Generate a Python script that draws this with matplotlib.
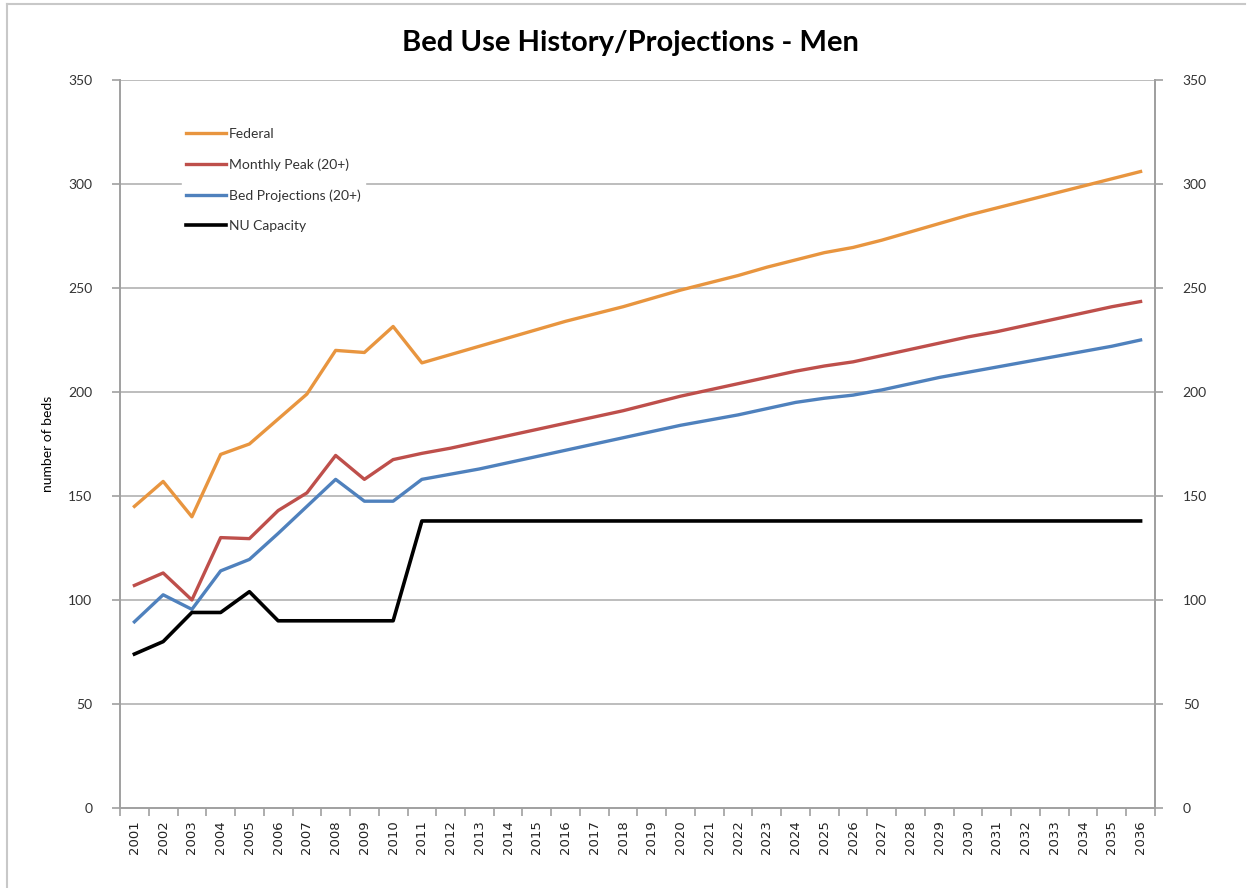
import numpy as np
import matplotlib
matplotlib.use('Agg')
import matplotlib.pyplot as plt
from matplotlib.lines import Line2D

plt.rcParams['font.family'] = ['Lato', 'DejaVu Sans']

years = [str(y) for y in range(2001, 2037)]

federal = [145, 157, 140, 170, 175, 187, 199, 220, 219, 231.5,
           214, 218, 222, 226, 230, 234, 237.5, 241, 245, 249,
           252.5, 256, 260, 263.5, 267, 269.5, 273, 277, 281, 285,
           288.5, 292, 295.5, 299, 302.5, 306]
monthly_peak = [107, 113, 100, 130, 129.5, 143, 151.5, 169.5, 158, 167.5,
                170.5, 173, 176, 179, 182, 185, 188, 191, 194.5, 198,
                201, 204, 207, 210, 212.5, 214.5, 217.5, 220.5, 223.5, 226.5,
                229, 232, 235, 238, 241, 243.5]
bed_proj = [89.5, 102.5, 95.5, 114, 119.5, 132, 145, 158, 147.5, 147.5,
            158, 160.5, 163, 166, 169, 172, 175, 178, 181, 184,
            186.5, 189, 192, 195, 197, 198.5, 201, 204, 207, 209.5,
            212, 214.5, 217, 219.5, 222, 225]
nu_capacity = [74, 80, 94, 94, 104, 90, 90, 90, 90, 90] + [138] * 26

yticks = [0, 50, 100, 150, 200, 250, 300, 350]

fig = plt.figure(figsize=(12.49, 8.88), dpi=100)
ax = fig.add_axes([0.0961, 0.0901, 0.8286, 0.8198])

x = np.arange(len(years))
grid_c = '#BDBDBD'
ax.set_xlim(-0.5, len(years) - 0.5)
ax.set_ylim(0, 350)
ax.set_yticks(yticks)
for v in yticks[1:]:
    ax.axhline(v, color=grid_c, lw=1.4, zorder=1)

l1, = ax.plot(x, federal, color='#E8953F', lw=2.4, label='Federal', zorder=3)
l2, = ax.plot(x, monthly_peak, color='#BE4F4B', lw=2.4, label='Monthly Peak (20+)', zorder=3)
l3, = ax.plot(x, bed_proj, color='#4F81BD', lw=2.4, label='Bed Projections (20+)', zorder=3)
l4, = ax.plot(x, nu_capacity, color='black', lw=2.6, label='NU Capacity', zorder=3)

ax.spines['top'].set_visible(False)
for s in ['left', 'right', 'bottom']:
    ax.spines[s].set_color('#A0A0A0')
    ax.spines[s].set_linewidth(1.4)

ax.set_xticks(x)
ax.set_xticklabels(years, rotation=90, fontsize=9.5, family=['DejaVu Sans'], color='#222222')
ax.set_xticks(np.arange(len(years) + 1) - 0.5, minor=True)
ax.tick_params(axis='x', which='major', length=0, pad=9)
ax.tick_params(axis='x', which='minor', length=6, color='#A0A0A0', width=1.2)
ax.tick_params(axis='y', length=6, color='#A0A0A0', width=1.2, labelsize=10,
               labelcolor='#333333', pad=14)

ax2 = ax.twinx()
ax2.set_ylim(0, 350)
ax2.set_yticks(yticks)
ax2.tick_params(axis='y', length=6, color='#A0A0A0', width=1.2, labelsize=10,
                labelcolor='#333333', pad=14)
for s in ['top', 'left', 'bottom']:
    ax2.spines[s].set_visible(False)
ax2.spines['right'].set_color('#A0A0A0')
ax2.spines['right'].set_linewidth(1.4)

ax.set_ylabel('number of beds', fontsize=10, labelpad=10)

leg = ax.legend(handles=[l1, l2, l3, l4], loc='upper left', bbox_to_anchor=(0.053, 0.95),
                frameon=True, fontsize=10, handlelength=2.9, handletextpad=0.2,
                labelspacing=1.33, borderpad=0.3)
leg.get_frame().set_facecolor('white')
leg.get_frame().set_edgecolor('white')
leg.get_frame().set_alpha(1)
for t in leg.get_texts():
    t.set_color('#333333')

fig.text(0.505, 0.952, 'Bed Use History/Projections - Men', ha='center', va='center',
         fontsize=21, fontweight='bold')

# light chart border like the source screenshot
fig.add_artist(Line2D([0.006, 0.006], [0.0, 0.996], transform=fig.transFigure, color='#C8C8C8', lw=1.5))
fig.add_artist(Line2D([0.006, 0.997], [0.996, 0.996], transform=fig.transFigure, color='#C8C8C8', lw=1.5))

fig.savefig('out.png', dpi=100)
